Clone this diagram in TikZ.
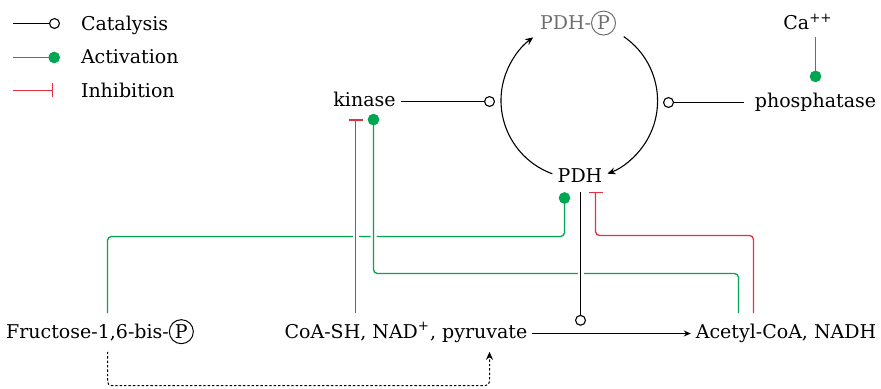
\documentclass[tikz,border=0pt]{standalone}
\usepackage{fontspec}
\setmainfont{DejaVu Serif}
\usetikzlibrary{arrows.meta}
\definecolor{actgreen}{RGB}{0,166,81}
\definecolor{inhred}{RGB}{232,48,68}
\definecolor{pgray}{RGB}{110,110,110}
\newcommand{\cP}[1][black]{\tikz[baseline=(cp.base)]\node[draw=#1,text=#1,line width=0.5pt,circle,inner sep=0.3pt,minimum size=12pt](cp){P};}
\begin{document}
\begin{tikzpicture}[x=0.5pt,y=0.5pt,
  font=\fontsize{9.5pt}{12pt}\selectfont,
  lbl/.style={text height=7.2pt,text depth=2.1pt,inner sep=2.5pt,outer sep=0pt},
  cat/.style={line width=0.55pt,-{Circle[open,length=5.5pt]}},
  act/.style={actgreen,line width=0.65pt,-{Circle[length=5.8pt]}},
  inh/.style={inhred,line width=0.65pt,-{Bar[width=7pt]}},
  halo/.style={white,line width=3pt},
  flow/.style={line width=0.55pt,-{Stealth[length=4pt,width=3.5pt]}},
  rc/.style={rounded corners=2pt}]
\useasboundingbox (0,0) rectangle (881,-389);
% legend
\coordinate (lg1a) at (13,-23.5); \coordinate (lg1b) at (60,-23.5);
\coordinate (lg2a) at (13,-57.5); \coordinate (lg2b) at (60,-57.5);
\coordinate (lg3a) at (13,-90.5); \coordinate (lg3b) at (53,-90.5);
\node[lbl,anchor=base west] (lgt1) at (76,-31) {Catalysis};
\node[lbl,anchor=base west] (lgt2) at (76,-64) {Activation};
\node[lbl,anchor=base west] (lgt3) at (76,-98) {Inhibition};
\draw[cat] (lg1a) -- (lg1b);
\draw[act] (lg2a) -- (lg2b);
\draw[inh] (lg3a) -- (lg3b);
% nodes
\node[circle,minimum size=78pt,inner sep=0pt,outer sep=0pt] (cyc) at (579,-100.5) {};
\node[lbl,anchor=base] (kin) at (364.5,-106.6) {kinase};
\node[lbl,anchor=base] (pho) at (815.5,-107.6) {phosphatase};
\node[lbl,anchor=base] (ca) at (808,-30) {Ca\textsuperscript{++}};
\node[lbl,anchor=base,text=pgray] (pdhp) at (578,-30) {PDH-\cP[pgray]};
\node[lbl,anchor=base] (pdh) at (580,-183) {PDH};
\node[lbl,anchor=base] (fru) at (100,-338.6) {Fructose-1,6-bis-\cP};
\node[lbl,anchor=base] (coa) at (406,-338.6) {CoA-SH, NAD\textsuperscript{+}, pyruvate};
\node[lbl,anchor=base] (ace) at (786,-338.6) {Acetyl-CoA, NADH};
% columns and rows
\coordinate (cF) at (107.5,0);
\coordinate (cK1) at (355.5,0);
\coordinate (cK2) at (373.5,0);
\coordinate (cD) at (489.5,0);
\coordinate (cP1) at (564.5,0);
\coordinate (cP0) at (580.5,0);
\coordinate (cP2) at (595.5,0);
\coordinate (cA1) at (738.5,0);
\coordinate (cA2) at (753.5,0);
\coordinate (yG1) at (0,-236.5);
\coordinate (yG2) at (0,-273.5);
\coordinate (yR) at (0,-235.5);
\coordinate (yB) at (0,-385.5);
% cycle
\draw[flow] (cyc.250) arc[start angle=250,end angle=126,radius=39pt];
\draw[flow] (cyc.55.5) arc[start angle=55.5,end angle=-69,radius=39pt];
% catalysis of cycle
\draw[cat,shorten >=3pt] (kin.east) -- (kin.east -| cyc.west);
\draw[cat,shorten >=3pt,shorten <=3pt] (pho.west) -- (pho.west -| cyc.east);
\draw[act,shorten <=-1pt,shorten >=3pt] (ca.south -| pho.north) -- (pho.north);
% regulation
\draw[act,rc,shorten <=3pt] (cF |- fru.north) |- (cP1 |- yG1) -- (cP1 |- pdh.south);
\draw[halo,rc,shorten <=3pt,shorten >=4pt] (cA1 |- ace.north) |- (cK2 |- yG2) -- (cK2 |- kin.south);
\draw[act,rc,shorten <=3pt,shorten >=-1pt] (cA1 |- ace.north) |- (cK2 |- yG2) -- (cK2 |- kin.south);
\draw[halo,shorten <=3pt,shorten >=4pt] (cK1 |- coa.north) -- (cK1 |- kin.south);
\draw[inh,shorten <=3pt,shorten >=1.8pt] (cK1 |- coa.north) -- (cK1 |- kin.south);
\draw[inh,rc,shorten <=3pt] (cA2 |- ace.north) |- (cP2 |- yR) -- (cP2 |- pdh.south);
\draw[halo,shorten <=2pt,shorten >=8pt] (cP0 |- pdh.south) -- (cP0 |- coa.east);
\draw[cat,shorten >=3.85pt] (cP0 |- pdh.south) -- (cP0 |- coa.east);
% reaction
\draw[line width=0.55pt,-{Stealth[length=3.5pt,width=3pt]}] (coa.east) -- (ace.west);
\draw[flow,line width=0.5pt,dash pattern=on 1.2pt off 1pt,rc,shorten <=2pt,shorten >=2pt] (cF |- fru.south) |- (cD |- yB) -- (cD |- coa.south);
\end{tikzpicture}
\end{document}
